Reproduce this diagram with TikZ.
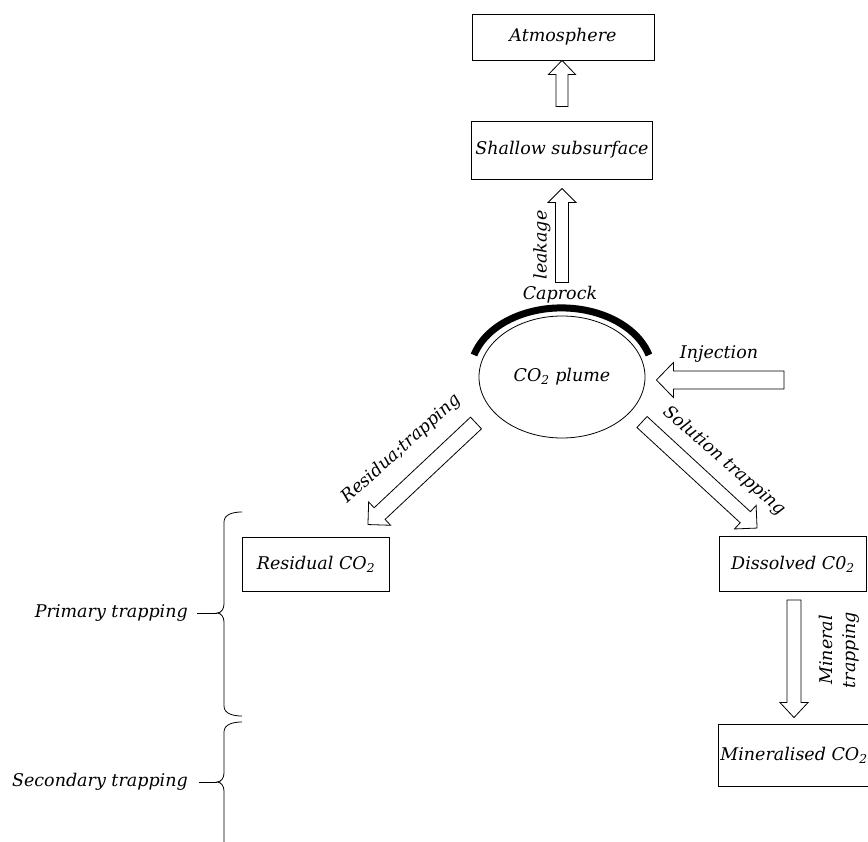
\documentclass[tikz,border=0pt]{standalone}
\usepackage{fontspec}
\setmainfont{DejaVu Serif}
\usetikzlibrary{calc,shapes.geometric}

% hollow block arrow: from, to, half shaft, half head, head length
\newcommand{\hollowarrow}[5]{%
  \draw[blockarrow] let \p1=(#1), \p2=(#2), \p3=($(\p2)!#5!(\p1)$) in
    ($(\p1)!#3!90:(\p2)$) -- ($(\p3)!#3!-90:(\p1)$) -- ($(\p3)!#4!-90:(\p1)$)
    -- (\p2) -- ($(\p3)!#4!90:(\p1)$) -- ($(\p3)!#3!90:(\p1)$)
    -- ($(\p1)!#3!-90:(\p2)$) -- cycle;}

\tikzset{
  box/.style={draw, line width=0.9pt, minimum width=#1, inner sep=2pt},
  lbl/.style={inner sep=1pt},
  blockarrow/.style={draw, line width=0.8pt, fill=white, line join=miter},
  bracket/.style={draw, line width=0.8pt},
}

\begin{document}
\begin{tikzpicture}[x=1pt, y=-1pt, every node/.style={font=\itshape\fontsize{17.5}{23}\selectfont}]
    \useasboundingbox (0,0) rectangle (868,842);

    % Boxes
    \node[box=182pt, minimum height=46pt] (atmos) at (563,37) {Atmosphere};
    \node[box=181pt, minimum height=58pt] (shallow) at (562,150) {Shallow subsurface};
    \node[draw, ellipse, line width=0.8pt, minimum width=166pt, minimum height=122pt, inner sep=0pt] (plume) at (562,377) {CO\textsubscript{2} plume};
    \node[box=147pt, minimum height=54pt] (resid) at (316,564) {Residual CO\textsubscript{2}};
    \node[box=147pt, minimum height=55pt] (dissol) at (793,564) {Dissolved C0\textsubscript{2}};
    \node[box=152pt, minimum height=62pt] (mineral) at (794,755) {Mineralised CO\textsubscript{2}};

    % Caprock over the plume
    \draw[line width=7pt] ($(plume.center)+(-88,-22)$) arc[start angle=196, end angle=344, x radius=91, y radius=65];
    \node[lbl] (caprock) at (560,295) {Caprock};

    % Arrow ends
    \coordinate (atm-in) at ($(shallow.north)+(0,-14)$);
    \coordinate (leak-in) at ($(plume.north)+(0,-33)$);
    \coordinate (leak-out) at ($(leak-in |- shallow.south)+(0,9)$);
    \coordinate (inj) at (784,380);
    \coordinate (inj-out) at ($(inj -| plume.east)+(11,0)$);
    \coordinate (res-in) at (476,423);
    \coordinate (res-out) at ($(resid.north east)+(-22,-12)$);
    \coordinate (sol-in) at (642,422);
    \coordinate (sol-out) at ($(dissol.north west)+(38,-8)$);
    \coordinate (min-in) at ($(dissol.south)+(1,8)$);
    \coordinate (min-out) at ($(min-in |- mineral.north)+(0,-6)$);

    % Block arrows
    \hollowarrow{atm-in}{atm-in |- atmos.south}{6pt}{13.5pt}{14pt}
    \hollowarrow{leak-in}{leak-out}{6.5pt}{14pt}{14pt}
    \hollowarrow{inj}{inj-out}{9pt}{17.5pt}{17pt}
    \hollowarrow{res-in}{res-out}{8pt}{16pt}{16pt}
    \hollowarrow{sol-in}{sol-out}{7.5pt}{16pt}{16pt}
    \hollowarrow{min-in}{min-out}{7pt}{14pt}{15pt}

    % Arrow labels
    \node[lbl, rotate=90] (leak) at (542,245) {leakage};
    \node[lbl] (injl) at (719,354) {Injection};
    \node[lbl, rotate=42] (resl) at (401,449) {Residua;trapping};
    \node[lbl, rotate=-41] (soll) at (724,461) {Solution trapping};
    \node[lbl, rotate=90, align=center] (minl) at (839,650) {Mineral\\trapping};

    % Brackets
    \draw[bracket] (242,512) to[out=180, in=90] (224,522) -- (224,604)
        to[out=-90, in=0] (217,613) coordinate (ptip) to[out=0, in=90] (224,622)
        -- (224,706) to[out=-90, in=180] (242,716);
    \draw[bracket] (242,722) to[out=180, in=90] (224,732) -- (224,773)
        to[out=-90, in=0] (217,782) coordinate (stip) to[out=0, in=90] (224,791)
        -- (224,850);
    \node[lbl, anchor=east] (prim) at (189,613) {Primary trapping};
    \node[lbl, anchor=east] (sec) at (189,782) {Secondary trapping};
    \draw[bracket] ($(prim.east)+(8,0)$) -- (ptip);
    \draw[bracket] ($(sec.east)+(10,0)$) -- (stip);
\end{tikzpicture}
\end{document}
